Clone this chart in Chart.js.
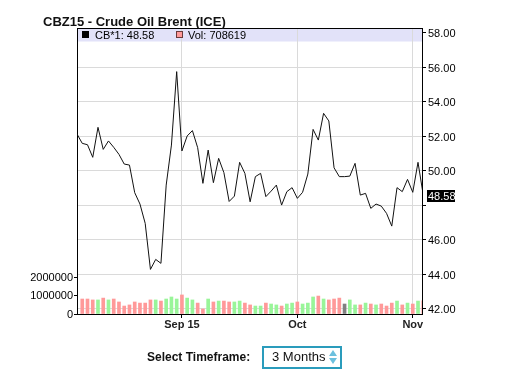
<!DOCTYPE html>
<html>
<head>
<meta charset="utf-8">
<script src="https://cdn.jsdelivr.net/npm/chart.js@4.4.1/dist/chart.umd.min.js"></script>
<style>
  html, body { margin: 0; padding: 0; background: #fff; }
  #wrap { position: relative; width: 507px; height: 381px; overflow: hidden; }
  #c { position: absolute; left: 0; top: 0; }
  #title { position: absolute; left: 43px; top: 15px; font: bold 13px "Liberation Sans", Arial, sans-serif; line-height: 13px; color: #111; white-space: nowrap; }
  #tfLabel { position: absolute; left: 147px; top: 351px; font: bold 12px "Liberation Sans", Arial, sans-serif; line-height: 12px; color: #111; white-space: nowrap; }
  #tfBox { position: absolute; left: 262px; top: 346px; width: 76px; height: 19px; border: 2px solid #2a9cbc; background: #fff; }
  #tfText { position: absolute; left: 8px; top: 2px; font: 13px "Liberation Sans", Arial, sans-serif; line-height: 13px; color: #111; white-space: nowrap; }
  .tri { position: absolute; width: 0; height: 0; border-left: 4px solid transparent; border-right: 4px solid transparent; }
  #up { left: 65px; top: 2px; border-bottom: 6px solid #6cc0de; }
  #dn { left: 65px; top: 10px; border-top: 6px solid #6cc0de; }
</style>
</head>
<body>
<div id="wrap">
  <canvas id="c" width="507" height="381"></canvas>
  <div id="title"></div>
  <div id="tfLabel"></div>
  <div id="tfBox"><span id="tfText"></span><div class="tri" id="up"></div><div class="tri" id="dn"></div></div>
</div>
<script>
// ---- data ----
const titleText = 'CBZ15 - Crude Oil Brent (ICE)';
const seriesNames = ['CB*1', 'Vol'];
const timeframeLabel = 'Select Timeframe:';
const timeframeValue = '3 Months';

const dates = [
  '2015-08-04','2015-08-05','2015-08-06','2015-08-07',
  '2015-08-10','2015-08-11','2015-08-12','2015-08-13','2015-08-14',
  '2015-08-17','2015-08-18','2015-08-19','2015-08-20','2015-08-21',
  '2015-08-24','2015-08-25','2015-08-26','2015-08-27','2015-08-28',
  '2015-08-31',
  '2015-09-01','2015-09-02','2015-09-03','2015-09-04',
  '2015-09-07','2015-09-08','2015-09-09','2015-09-10','2015-09-11',
  '2015-09-14','2015-09-15','2015-09-16','2015-09-17','2015-09-18',
  '2015-09-21','2015-09-22','2015-09-23','2015-09-24','2015-09-25',
  '2015-09-28','2015-09-29','2015-09-30',
  '2015-10-01','2015-10-02',
  '2015-10-05','2015-10-06','2015-10-07','2015-10-08','2015-10-09',
  '2015-10-12','2015-10-13','2015-10-14','2015-10-15','2015-10-16',
  '2015-10-19','2015-10-20','2015-10-21','2015-10-22','2015-10-23',
  '2015-10-26','2015-10-27','2015-10-28','2015-10-29','2015-10-30',
  '2015-11-02','2015-11-03','2015-11-04'
];

const prices = [
  52.13, 51.59, 51.51, 50.78, 52.52, 51.24, 51.73, 51.36, 50.95, 50.39,
  50.33, 48.73, 48.07, 46.95, 44.28, 44.86, 44.63, 49.17, 51.49, 55.75,
  51.15, 52.02, 52.33, 51.34, 49.27, 51.20, 49.31, 50.72, 49.89, 48.22,
  48.53, 50.49, 49.85, 48.20, 49.66, 49.85, 48.50, 48.82, 49.17, 48.01,
  48.79, 49.02, 48.40, 48.75, 49.81, 52.40, 51.78, 53.33, 52.89, 50.17,
  49.66, 49.66, 49.69, 50.43, 48.59, 48.69, 47.82, 48.07, 47.95, 47.53,
  46.79, 49.02, 48.79, 49.50, 48.75, 50.49, 48.58
];

const volumes = [
  null, 810000, 810000, 760000, 760000, 860000, 760000, 810000, 650000, 430000,
  490000, 650000, 590000, 590000, 760000, 760000, 700000, 810000, 920000, 810000,
  1030000, 860000, 760000, 590000, 270000, 810000, 650000, 700000, 700000, 650000,
  650000, 700000, 590000, 490000, 430000, 430000, 590000, 540000, 490000, 430000,
  540000, 590000, 650000, 540000, 590000, 920000, 970000, 810000, 760000, 810000,
  860000, 540000, 760000, 490000, 490000, 590000, 540000, 490000, 540000, 430000,
  590000, 700000, 490000, 590000, 540000, 700000, 708619
];

const tickDates = ['2015-09-01', '2015-10-01', '2015-11-02'];
const tickLabels = ['Sep 15', 'Oct', 'Nov'];
const priceTicks = [42, 44, 46, 48, 50, 52, 54, 56, 58];
const volumeTicks = [0, 1000000, 2000000];

// ---- chart ----
const FONT = '"Liberation Sans", Arial, sans-serif';
const tickPos = tickDates.map(d => dates.indexOf(d));
const lastPrice = prices[prices.length - 1];
const lastVol = volumes[volumes.length - 1];
const volColors = volumes.map((v, i) => {
  if (i === 0) return '#ff9999';
  const d = prices[i] - prices[i - 1];
  return d > 0 ? '#99f599' : (d < 0 ? '#ff9999' : '#808080');
});

document.getElementById('title').textContent = titleText;
document.getElementById('tfLabel').textContent = timeframeLabel;
document.getElementById('tfText').textContent = timeframeValue;

const framePlugin = {
  id: 'frame',
  beforeDraw(chart) {
    const { ctx, chartArea: a } = chart;
    ctx.save();
    ctx.fillStyle = '#e2e2f9';
    ctx.fillRect(a.left, a.top, a.right - a.left, 13.5);
    ctx.restore();
  },
  afterDraw(chart) {
    const { ctx, chartArea: a } = chart;
    ctx.save();
    ctx.strokeStyle = '#000';
    ctx.lineWidth = 1;
    ctx.beginPath();
    ctx.moveTo(a.left, a.top + 0.5);
    ctx.lineTo(a.right + 1, a.top + 0.5);
    ctx.stroke();
    ctx.font = '11px ' + FONT;
    ctx.textBaseline = 'alphabetic';
    ctx.fillStyle = '#000';
    ctx.fillRect(a.left + 5, a.top + 3, 7, 7);
    ctx.fillText(seriesNames[0] + ': ' + lastPrice.toFixed(2), a.left + 18, a.top + 10.5);
    ctx.fillStyle = '#ff9999';
    ctx.fillRect(a.left + 99, a.top + 3, 7, 7);
    ctx.strokeStyle = '#6b3a3a';
    ctx.strokeRect(a.left + 99.5, a.top + 3.5, 6, 6);
    ctx.fillStyle = '#000';
    ctx.fillText(seriesNames[1] + ': ' + lastVol, a.left + 111, a.top + 10.5);
    const y = chart.scales.y.getPixelForValue(lastPrice);
    ctx.fillStyle = '#000';
    ctx.fillRect(a.right + 5, Math.round(y) - 5, 28, 12);
    ctx.fillStyle = '#fff';
    ctx.textBaseline = 'middle';
    ctx.fillText(lastPrice.toFixed(2), a.right + 6, Math.round(y) + 1.5);
    ctx.restore();
  }
};

new Chart(document.getElementById('c'), {
  type: 'bar',
  data: {
    datasets: [
      {
        type: 'line',
        label: seriesNames[0],
        data: prices.map((p, i) => ({ x: i, y: p })),
        xAxisID: 'x',
        yAxisID: 'y',
        borderColor: '#111',
        borderWidth: 1,
        pointRadius: 0,
        tension: 0,
        order: 0
      },
      {
        type: 'bar',
        label: seriesNames[1],
        data: volumes.map((v, i) => ({ x: i, y: v })),
        xAxisID: 'x',
        yAxisID: 'v',
        backgroundColor: volColors,
        barThickness: 3,
        order: 1
      }
    ]
  },
  options: {
    responsive: false,
    animation: false,
    events: [],
    layout: { padding: { top: 28, left: 0, right: 0, bottom: 0 } },
    plugins: { legend: { display: false }, tooltip: { enabled: false }, title: { display: false } },
    scales: {
      x: {
        type: 'linear',
        offset: false,
        min: 0,
        max: 65.76,
        afterBuildTicks: s => { s.ticks = tickPos.map(v => ({ value: v })); },
        afterFit: s => { s.height = 67; },
        ticks: {
          autoSkip: false, maxRotation: 0, padding: 0,
          color: '#222',
          font: { family: FONT, size: 11, weight: 'bold' },
          callback: (v, i) => tickLabels[i]
        },
        grid: { offset: false, color: '#dadada', tickColor: '#000', tickLength: 4 },
        border: { color: '#000' }
      },
      y: {
        position: 'right',
        min: 41.693,
        max: 58.28,
        afterBuildTicks: s => { s.ticks = priceTicks.map(v => ({ value: v })); },
        afterFit: s => { s.width = 85; },
        ticks: {
          padding: 2,
          labelOffset: 1.5,
          color: '#000',
          font: { family: FONT, size: 11 },
          callback: v => (Math.abs(v - lastPrice) < 0.7 ? '' : v.toFixed(2))
        },
        grid: {
          color: c => (c.tick && c.tick.value === 58 ? 'rgba(0,0,0,0)' : '#dadada'),
          tickColor: '#000',
          tickLength: 4
        },
        border: { color: '#000' }
      },
      v: {
        position: 'left',
        min: 0,
        max: 15460000,
        afterBuildTicks: s => { s.ticks = volumeTicks.map(v => ({ value: v })); },
        afterFit: s => { s.width = 77; },
        ticks: {
          padding: 1,
          labelOffset: 0.5,
          color: '#000',
          font: { family: FONT, size: 11 },
          callback: v => String(v)
        },
        grid: { drawOnChartArea: false, tickColor: '#000', tickLength: 3 },
        border: { color: '#000' }
      }
    }
  },
  plugins: [framePlugin]
});
</script>
</body>
</html>
